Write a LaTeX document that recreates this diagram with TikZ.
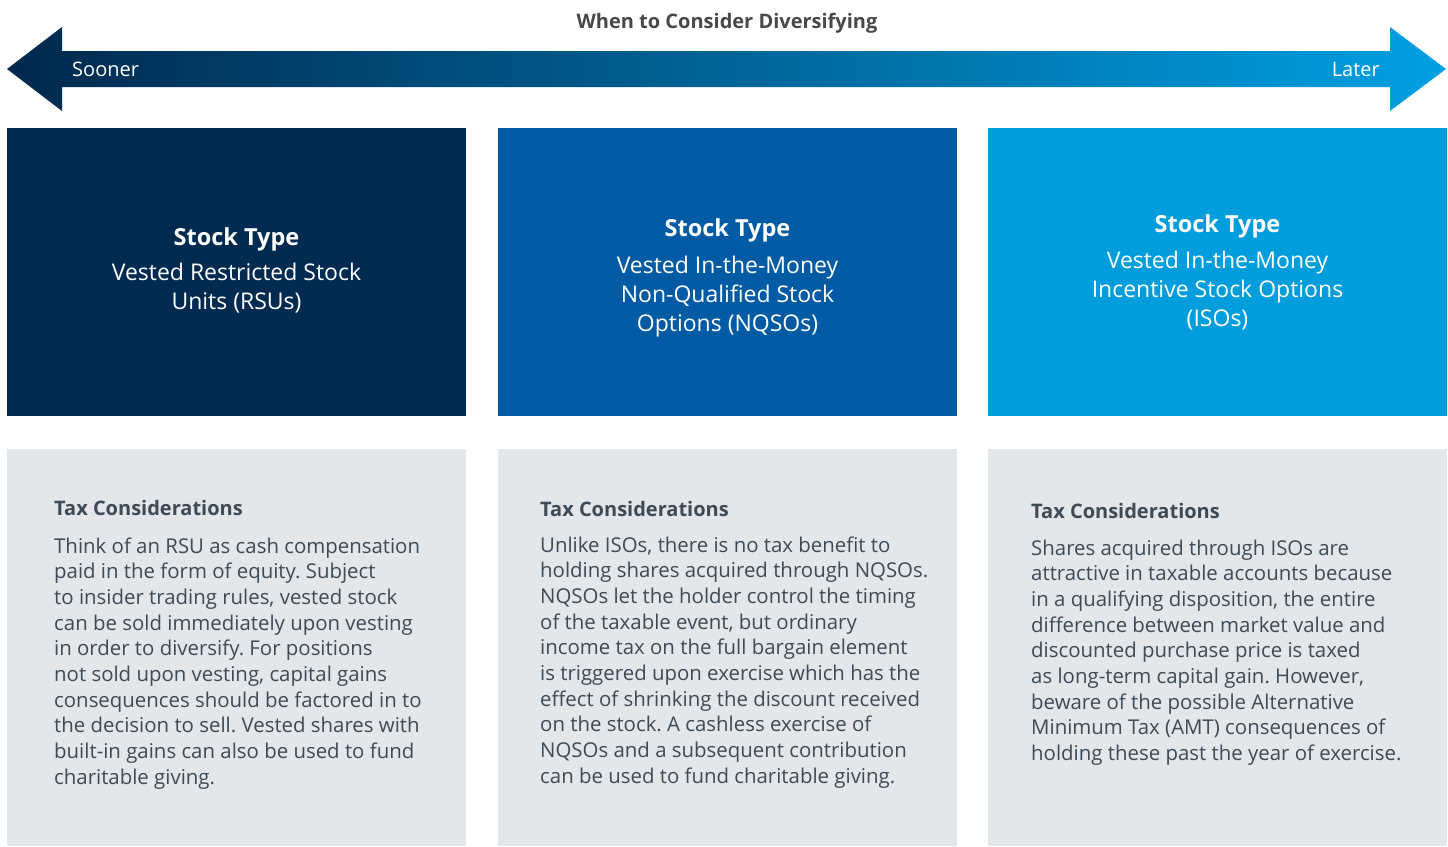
\documentclass[tikz,border=0pt]{standalone}
\usepackage{fontspec}
\setmainfont{Open Sans}
\frenchspacing
\definecolor{navy}{RGB}{0,42,80}
\definecolor{midblue}{RGB}{0,91,164}
\definecolor{skyblue}{RGB}{0,157,220}
\definecolor{arrowL}{RGB}{0,40,77}
\definecolor{arrowR}{RGB}{0,160,226}
\definecolor{panel}{RGB}{227,231,234}
\definecolor{slate}{RGB}{62,74,84}
\definecolor{titlegray}{RGB}{72,72,72}
\tikzset{
  typebox/.style={draw=none, minimum width=459pt, minimum height=288pt, inner sep=0, anchor=north west},
  panelbox/.style={draw=none, fill=panel, minimum width=459pt, minimum height=397pt, inner sep=0, anchor=north west},
  typetitle/.style={text=white, font=\fontsize{23.5}{29}\selectfont\bfseries, anchor=base, inner sep=0},
  typebody/.style={text=white, font=\fontsize{23}{29}\selectfont, align=center, anchor=base, inner sep=0},
  taxtitle/.style={text=slate, font=\fontsize{20}{25.7}\selectfont\bfseries, anchor=base west, inner sep=0},
  taxbody/.style={text=slate, font=\fontsize{20.4}{25.7}\selectfont\frenchspacing, align=left, anchor=base west, inner sep=0},
  endlabel/.style={text=white, font=\fontsize{20}{24}\selectfont, inner sep=0},
}
\begin{document}
\begin{tikzpicture}[x=1pt,y=-1pt]
\useasboundingbox (0,0) rectangle (1448,846);
% arrow
\shade[left color=arrowL, right color=arrowR]
  (7,69) -- (62,27) -- (62,51) -- (1390,51) -- (1390,27) -- (1446,69)
  -- (1390,111) -- (1390,87) -- (62,87) -- (62,111) -- cycle;
\node[font=\fontsize{20}{22}\selectfont\bfseries, text=titlegray, anchor=base, inner sep=0] (title) at (727,28) {When to Consider Diversifying};
\node[endlabel, anchor=base west] (sooner) at (72,76) {Sooner};
\node[endlabel, anchor=base east] (later) at (1380,76) {Later};
% stock type boxes
\node[typebox, fill=navy] (b1) at (7,128) {};
\node[typebox, fill=midblue] (b2) at (498,128) {};
\node[typebox, fill=skyblue] (b3) at (988,128) {};
\node[typetitle] (t1) at (236.5,245) {Stock Type};
\node[typebody] (s1) at (236.5,309) {Vested Restricted Stock\\Units (RSUs)};
\node[typetitle] (t2) at (727.5,236) {Stock Type};
\node[typebody] (s2) at (727.5,331) {Vested In-the-Money\\Non-Qualified Stock\\Options (NQSOs)};
\node[typetitle] (t3) at (1217.5,232) {Stock Type};
\node[typebody] (s3) at (1217.5,326) {Vested In-the-Money\\Incentive Stock Options\\(ISOs)};
% panels
\node[panelbox] (p1) at (7,449) {};
\node[panelbox] (p2) at (498,449) {};
\node[panelbox] (p3) at (988,449) {};
\node[taxtitle] (h1) at (54,515) {Tax Considerations};
\node[taxbody] (x1) at (54,784.3) {Think of an RSU as cash compensation\\paid in the form of equity. Subject\\to insider trading rules, vested stock\\can be sold immediately upon vesting\\in order to diversify. For positions\\not sold upon vesting, capital gains\\consequences should be factored in to\\the decision to sell. Vested shares with\\built-in gains can also be used to fund\\charitable giving.};
\node[taxtitle] (h2) at (540,516) {Tax Considerations};
\node[taxbody] (x2) at (540,783.3) {Unlike ISOs, there is no tax benefit to\\holding shares acquired through NQSOs.\\NQSOs let the holder control the timing\\of the taxable event, but ordinary\\income tax on the full bargain element\\is triggered upon exercise which has the\\effect of shrinking the discount received\\on the stock. A cashless exercise of\\NQSOs and a subsequent contribution\\can be used to fund charitable giving.};
\node[taxtitle] (h3) at (1031,518) {Tax Considerations};
\node[taxbody] (x3) at (1031,760.6) {Shares acquired through ISOs are\\attractive in taxable accounts because\\in a qualifying disposition, the entire\\difference between market value and\\discounted purchase price is taxed\\as long-term capital gain. However,\\beware of the possible Alternative\\Minimum Tax (AMT) consequences of\\holding these past the year of exercise.};
\end{tikzpicture}
\end{document}
